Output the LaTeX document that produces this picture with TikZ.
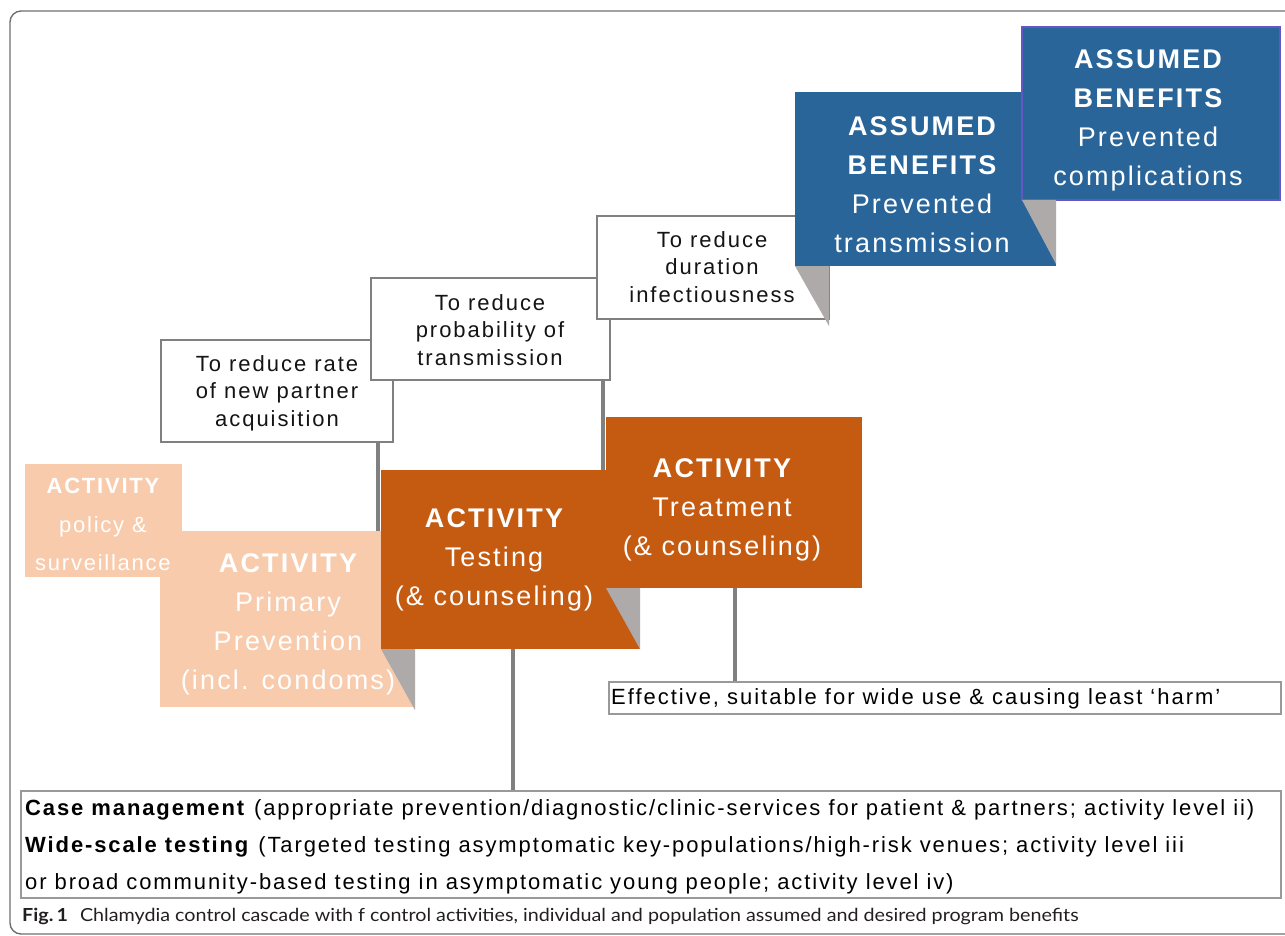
\documentclass[tikz,border=0pt]{standalone}
\usepackage{fontspec}
\setmainfont{Liberation Sans}
\newfontfamily\af[LetterSpace=8]{Liberation Sans}
\newfontfamily\am[LetterSpace=8.6]{Liberation Sans}
\newfontfamily\aw[LetterSpace=9]{Liberation Sans}
\newfontfamily\capf{Lato}
\usetikzlibrary{backgrounds}
\definecolor{bluebox}{RGB}{42,101,154}
\definecolor{blueedge}{RGB}{98,88,196}
\definecolor{orangebox}{RGB}{197,90,17}
\definecolor{peachbox}{RGB}{248,203,173}
\definecolor{foldgray}{RGB}{174,170,170}
\definecolor{conngray}{RGB}{128,128,128}
\definecolor{edgegray}{RGB}{128,128,128}
\definecolor{framegray}{RGB}{110,110,110}
\definecolor{txtdark}{RGB}{20,20,20}
\definecolor{captxt}{RGB}{35,31,32}
\begin{document}
\begin{tikzpicture}[x=1pt,y=-1pt,
  boxbase/.style={rectangle, inner sep=0pt, outer sep=0pt},
  wbox/.style={boxbase, fill=white, draw=edgegray, line width=1.8pt},
  bbox/.style={boxbase, fill=bluebox},
  obox/.style={boxbase, fill=orangebox},
  pbox/.style={boxbase, fill=peachbox},
  fold/.style={fill=foldgray},
  conn/.style={draw=conngray, line width=4.5pt},
  wtxt/.style={align=center, text=txtdark, font=\aw\fontsize{22}{27.5}\selectfont, inner sep=0pt},
  ctxt/.style={align=center, text=white, font=\af\fontsize{27}{39}\selectfont, inner sep=0pt},
  stxt/.style={align=center, text=white, font=\af\fontsize{22}{38.5}\selectfont, inner sep=0pt},
  ltxt/.style={align=left, text=black, font=\am\fontsize{22}{37}\selectfont, inner sep=0pt, anchor=west},
  infobox/.style={boxbase, fill=white, draw=edgegray!80, line width=1.2pt}
]
\useasboundingbox (0,0) rectangle (1285,936);

% outcome boxes
\node[wbox, minimum width=232pt, minimum height=102pt] (rate) at (277,391) {};
\node[wbox, minimum width=239pt, minimum height=102pt] (prob) at (490.5,329) {};
\node[wbox, minimum width=232pt, minimum height=103pt] (dur) at (713,267.5) {};
\node[bbox, minimum width=261pt, minimum height=174pt] (ben1) at (925.5,179) {};
\fill[fold] (ben1.south west) -- (dur.east |- ben1.south) -- ([yshift=-7pt]dur.south east) -- cycle;
\node[bbox, draw=blueedge, line width=1.5pt, minimum width=258pt, minimum height=173pt] (ben2) at (1151,113.5) {};
\fill[fold] (ben2.south west) -- (ben1.east |- ben2.south) -- ([yshift=2pt]ben1.south east) -- cycle;

% activity boxes
\node[pbox, minimum width=157pt, minimum height=113pt] (pol) at (103.5,520.5) {};
\node[pbox, minimum width=255pt, minimum height=176pt] (prim) at (287.5,619) {};
\node[obox, minimum width=259pt, minimum height=179pt] (test) at (510.5,559.5) {};
\fill[fold] (test.south west) -- (prim.east |- test.south) -- ([yshift=-3pt]prim.south east) -- cycle;
\node[obox, minimum width=256pt, minimum height=171pt] (treat) at (734,502.5) {};
\fill[fold] (treat.south west) -- (test.east |- treat.south) -- (test.south east) -- cycle;

% criteria boxes
\node[infobox, minimum width=672pt, minimum height=32pt] (eff) at (945,698) {};
\node[infobox, minimum width=1260pt, minimum height=107pt] (cases) at (651,844.5) {};

\begin{scope}[on background layer]
  \draw[framegray, line width=1.4pt, rounded corners=11pt] (10,11) rectangle (1310,934);
  \draw[conn] ([xshift=-15pt]rate.south east) -- ([xshift=-15pt]rate.south east |- prim.north);
  \draw[conn] ([xshift=-7pt]prob.south east) -- ([xshift=-7pt]prob.south east |- test.north);
  \draw[conn] (test.south -| 513,0) -- (cases.north -| 513,0);
  \draw[conn] (treat.south -| 735,0) -- (eff.north -| 735,0);
\end{scope}

% texts
\node[wtxt] (t-rate) at (277,393) {To reduce rate\\of new partner\\acquisition};
\node[wtxt] (t-prob) at (490,330) {To reduce\\probability of\\transmission};
\node[wtxt] (t-dur) at (712,267) {To reduce\\duration\\infectiousness};
\node[ctxt] (t-ben1) at (922,185) {\bfseries ASSUMED\\\bfseries BENEFITS\\Prevented\\transmission};
\node[ctxt] (t-ben2) at (1148,120.5) {\bfseries ASSUMED\\\bfseries BENEFITS\\Prevented\\complications};
\node[stxt] (t-pol) at (103,524.5) {\bfseries ACTIVITY\\policy \&\\surveillance};
\node[ctxt] (t-prim) at (288,624.5) {\bfseries ACTIVITY\\Primary\\Prevention\\(incl. condoms)};
\node[ctxt] (t-test) at (494,560) {\bfseries ACTIVITY\\Testing\\(\& counseling)};
\node[ctxt] (t-treat) at (722,510) {\bfseries ACTIVITY\\Treatment\\(\& counseling)};
\node[ltxt, font=\aw\fontsize{22}{37}\selectfont] (t-eff) at (611,699) {Effective, suitable for wide use \& causing least ‘harm’};
\node[ltxt] (t-cases) at (25,847) {\textbf{Case management} (appropriate prevention/diagnostic/clinic-services for patient \& partners; activity level ii)\\
\textbf{Wide-scale testing} (Targeted testing asymptomatic key-populations/high-risk venues; activity level iii\\
or broad community-based testing in asymptomatic young people; activity level iv)};
\node[anchor=west, inner sep=0pt, text=captxt, font=\capf\fontsize{18}{20}\selectfont] (cap) at (22,916) {\scalebox{1.096}[1]{\textbf{Fig.\,1}\hspace{0.6em}Chlamydia control cascade with f control activities, individual and population assumed and desired program benefits}};
\end{tikzpicture}
\end{document}
